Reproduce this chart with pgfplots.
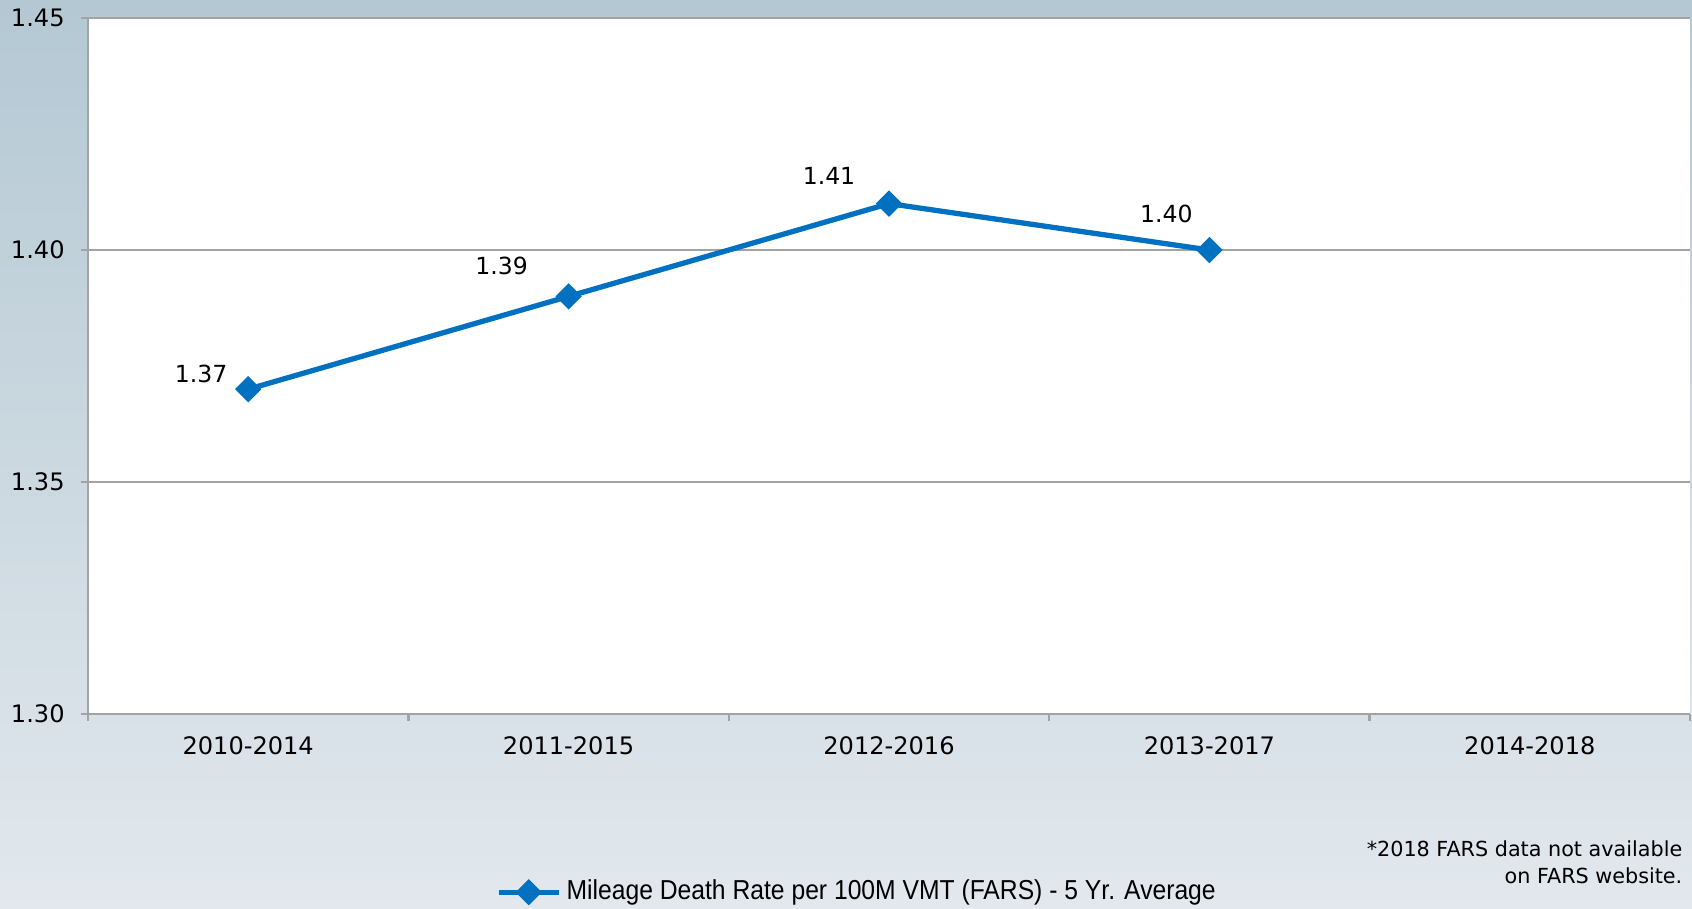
\documentclass[border=0pt]{standalone}
\usepackage{fontspec}
\setmainfont{DejaVu Sans}
\newfontfamily\legfont[FakeStretch=0.9]{Liberation Sans}
\usepackage{pgfplots}
\pgfplotsset{compat=1.18}
\definecolor{bgtop}{HTML}{B4C8D3}
\definecolor{bgbot}{HTML}{E2E8ED}
\definecolor{lineblue}{HTML}{0070C0}
\definecolor{gridgray}{HTML}{A3A3A3}
\begin{document}
\begin{tikzpicture}
\shade[top color=bgtop, bottom color=bgbot] (0,0) rectangle (16.92,9.08);
\begin{axis}[
  at={(0.88cm,1.94cm)}, anchor=south west,
  scale only axis, width=16.02cm, height=6.96cm,
  xmin=-0.5, xmax=4.5, ymin=1.30, ymax=1.45,
  axis background/.style={fill=white},
  axis lines*=left,
  axis line style={draw=gridgray, line width=0.7pt},
  xtick={-0.5,0.5,1.5,2.5,3.5,4.5},
  xticklabels={2010-2014,2011-2015,2012-2016,2013-2017,2014-2018},
  xticklabel style={xshift=1.602cm, anchor=base, yshift=-0.33cm},
  ytick={1.30,1.35,1.40,1.45},
  yticklabel style={xshift=-0.04cm, /pgf/number format/.cd, fixed, fixed zerofill, precision=2},
  /pgf/number format/assume math mode=true,
  tick label style={font=\fontsize{6.85}{8}\selectfont, text=black},
  tick align=outside, major tick length=0.07cm,
  tick style={draw=gridgray, line width=0.7pt},
  ymajorgrids, grid style={draw=gridgray, line width=0.7pt},
  clip=false,
  legend style={at={(0.481,-0.256)}, anchor=center, draw=none, fill=none,
    font=\legfont\fontsize{7.8}{8}\selectfont, inner sep=0pt,
    nodes={inner xsep=1.5pt},
    /tikz/every even column/.append style={column sep=0pt}},
  legend cell align=left,
]
\addplot[lineblue, line width=1.5pt, mark=square*, mark size=1.9pt,
  mark options={rotate=45}] coordinates {(0,1.37) (1,1.39) (2,1.41) (3,1.40)};
\addlegendentry{Mileage Death Rate per 100M VMT (FARS) - 5 Yr. Average}
\begin{scope}[every node/.style={font=\fontsize{6.7}{8}\selectfont, anchor=center}]
\node[xshift=-0.47cm, yshift=0.155cm] at (axis cs:0,1.37) {1.37};
\node[xshift=-0.67cm, yshift=0.300cm] at (axis cs:1,1.39) {1.39};
\node[xshift=-0.60cm, yshift=0.275cm] at (axis cs:2,1.41) {1.41};
\node[xshift=-0.43cm, yshift=0.365cm] at (axis cs:3,1.40) {1.40};
\end{scope}
\end{axis}
\node[anchor=east, align=right, font=\fontsize{5.9}{7.7}\selectfont, inner sep=0pt]
  at (16.83,0.455) {*2018 FARS data not available\\on FARS website.};
\pgfresetboundingbox
\path (0,0) rectangle (16.92,9.08);
\end{tikzpicture}
\end{document}
